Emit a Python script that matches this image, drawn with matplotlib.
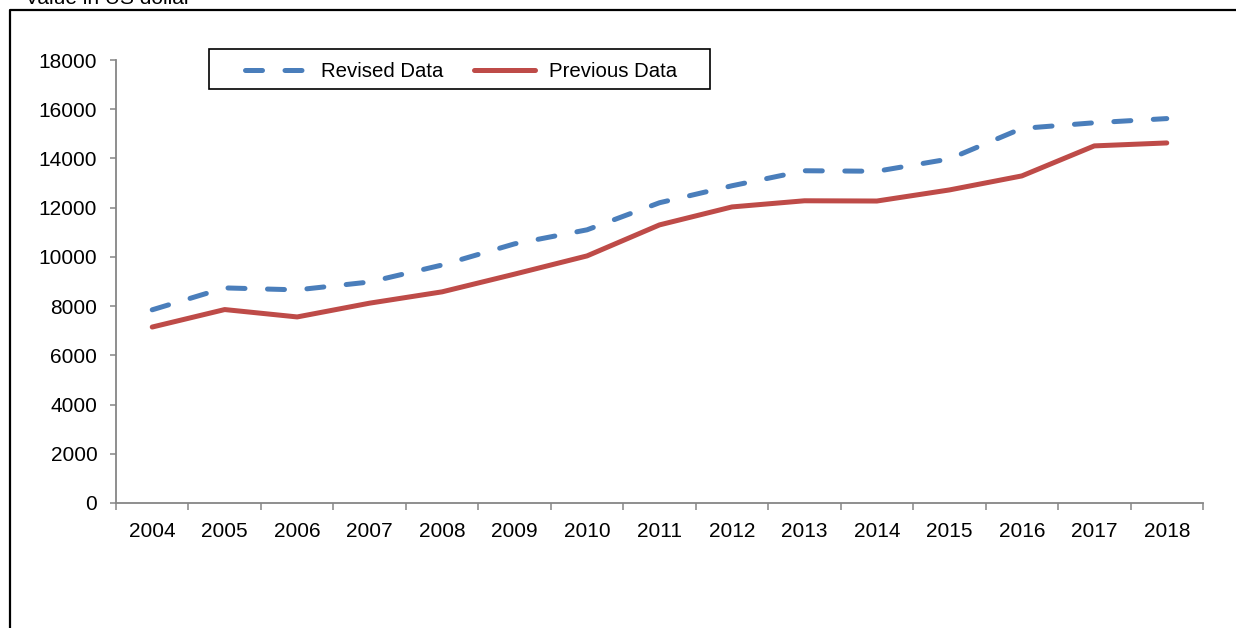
import matplotlib
matplotlib.use("Agg")
import matplotlib.pyplot as plt
from matplotlib.lines import Line2D
from matplotlib.patches import Rectangle
import numpy as np

plt.rcParams['font.family'] = ['Liberation Sans', 'DejaVu Sans']

years = ['2004', '2005', '2006', '2007', '2008', '2009', '2010', '2011',
         '2012', '2013', '2014', '2015', '2016', '2017', '2018']
revised = [7850, 8740, 8660, 8980, 9670, 10530, 11100, 12200,
           12890, 13500, 13480, 13980, 15220, 15450, 15620]
previous = [7150, 7860, 7560, 8120, 8580, 9300, 10040, 11300,
            12030, 12280, 12270, 12720, 13290, 14510, 14630]
yticks = list(range(0, 18001, 2000))

W, H = 1236, 628
fig = plt.figure(figsize=(W / 100, H / 100), dpi=100)
ax = fig.add_axes([116 / W, (H - 503) / H, (1203 - 116) / W, (503 - 60) / H])

blue = '#4A7EBB'
red = '#BE4B48'
LW = 3.6
x = np.arange(len(years))
lb, = ax.plot(x, revised, color=blue, lw=LW, dashes=(3.4, 4.5),
              dash_capstyle='round', dash_joinstyle='round',
              label='Revised Data')
lr, = ax.plot(x, previous, color=red, lw=LW, solid_capstyle='round',
              solid_joinstyle='round', label='Previous Data')

ax.set_xlim(-0.5, len(years) - 0.5)
ax.set_ylim(0, 18000)
ax.set_yticks(yticks)
ax.set_yticklabels([str(v) for v in yticks])
ax.set_xticks(x)
ax.set_xticklabels(years)
ax.set_xticks(np.arange(-0.5, len(years), 1.0), minor=True)

gray = '#868686'
for s in ['top', 'right']:
    ax.spines[s].set_visible(False)
for s in ['left', 'bottom']:
    ax.spines[s].set_color(gray)
    ax.spines[s].set_linewidth(1.3)
ax.tick_params(axis='y', direction='out', length=4.5, width=1.1, color=gray,
               labelsize=15, pad=9.0)
ax.tick_params(axis='x', which='major', length=0, labelsize=15, pad=14.0)
ax.tick_params(axis='x', which='minor', direction='out', length=5, width=1.1,
               color=gray)

# legend
leg = fig.legend(handles=[lb, lr], loc='center left',
                 bbox_to_anchor=(245 / W, 1 - 71.5 / H), ncol=2, frameon=False,
                 fontsize=14.7, borderpad=0, borderaxespad=0,
                 handlelength=3.0, handletextpad=0.7, columnspacing=1.5)
fig.patches.append(Rectangle((209 / W, 1 - 89 / H), (710 - 209) / W, 40 / H,
                             transform=fig.transFigure, fill=False,
                             edgecolor='black', lw=1.2))

# outer border (left and top)
fig.lines.append(Line2D([10 / W, 10 / W, 1.0], [0, 1 - 10 / H, 1 - 10 / H],
                        transform=fig.transFigure, color='black', lw=1.6))

fig.text(25 / W, 1 - 4 / H, 'Value in US dollar', fontsize=15,
         va='baseline', ha='left')

fig.savefig('out.png', dpi=100)
